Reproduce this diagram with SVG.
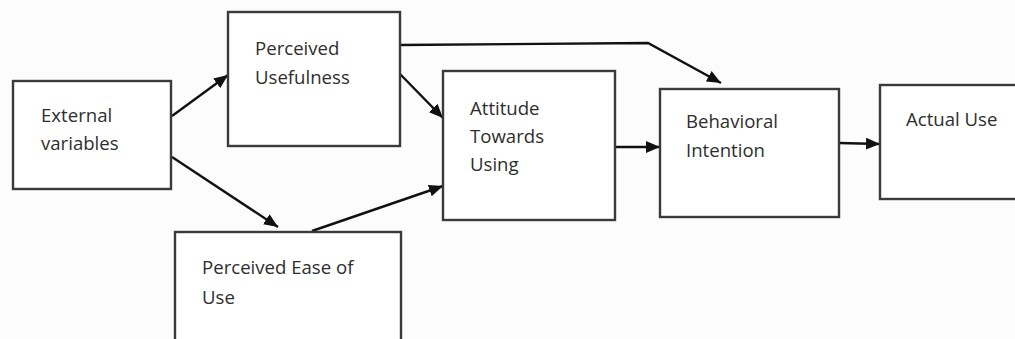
<svg xmlns="http://www.w3.org/2000/svg" width="1015" height="339" viewBox="0 0 1015 339">
<style>
.box{fill:#ffffff;stroke:#3a3a3a;stroke-width:2.4}
.lbl{font-family:"Open Sans","Liberation Sans",sans-serif;font-size:18.6px;fill:#2e2e2e}
.con{fill:none;stroke:#111111;stroke-width:2.4}
</style>
<defs>
<marker id="arr" markerUnits="userSpaceOnUse" markerWidth="15" markerHeight="12" refX="14" refY="6" orient="auto">
<path d="M0,0 L14,6 L0,12 Z" fill="#111111"/>
</marker>
</defs>
<rect width="1015" height="339" fill="#fcfcfc"/>
<g id="connectors">
<line class="con" x1="172" y1="116" x2="228" y2="75" marker-end="url(#arr)"/>
<line class="con" x1="172" y1="157" x2="278" y2="227" marker-end="url(#arr)"/>
<line class="con" x1="400" y1="74" x2="443" y2="118" marker-end="url(#arr)"/>
<line class="con" x1="312" y1="231" x2="443" y2="186" marker-end="url(#arr)"/>
<polyline class="con" points="400,45 648,43 721,83" marker-end="url(#arr)"/>
<line class="con" x1="615" y1="147" x2="660" y2="147" marker-end="url(#arr)"/>
<line class="con" x1="839" y1="143" x2="880" y2="144" marker-end="url(#arr)"/>
</g>
<g id="external">
<rect class="box" x="13" y="81" width="158" height="108"/>
<text class="lbl" x="41" y="122">External</text>
<text class="lbl" x="41" y="150">variables</text>
</g>
<g id="usefulness">
<rect class="box" x="228" y="12" width="172" height="134"/>
<text class="lbl" x="255" y="55">Perceived</text>
<text class="lbl" x="255" y="84">Usefulness</text>
</g>
<g id="ease">
<rect class="box" x="175" y="232" width="226" height="120"/>
<text class="lbl" x="202" y="274">Perceived Ease of</text>
<text class="lbl" x="202" y="304">Use</text>
</g>
<g id="attitude">
<rect class="box" x="443" y="71" width="172" height="149"/>
<text class="lbl" x="470" y="115">Attitude</text>
<text class="lbl" x="470" y="143">Towards</text>
<text class="lbl" x="470" y="171">Using</text>
</g>
<g id="intention">
<rect class="box" x="660" y="89" width="179" height="128"/>
<text class="lbl" x="686" y="128">Behavioral</text>
<text class="lbl" x="686" y="157">Intention</text>
</g>
<g id="actual">
<rect class="box" x="880" y="85" width="150" height="114"/>
<text class="lbl" x="906" y="126">Actual Use</text>
</g>
</svg>
